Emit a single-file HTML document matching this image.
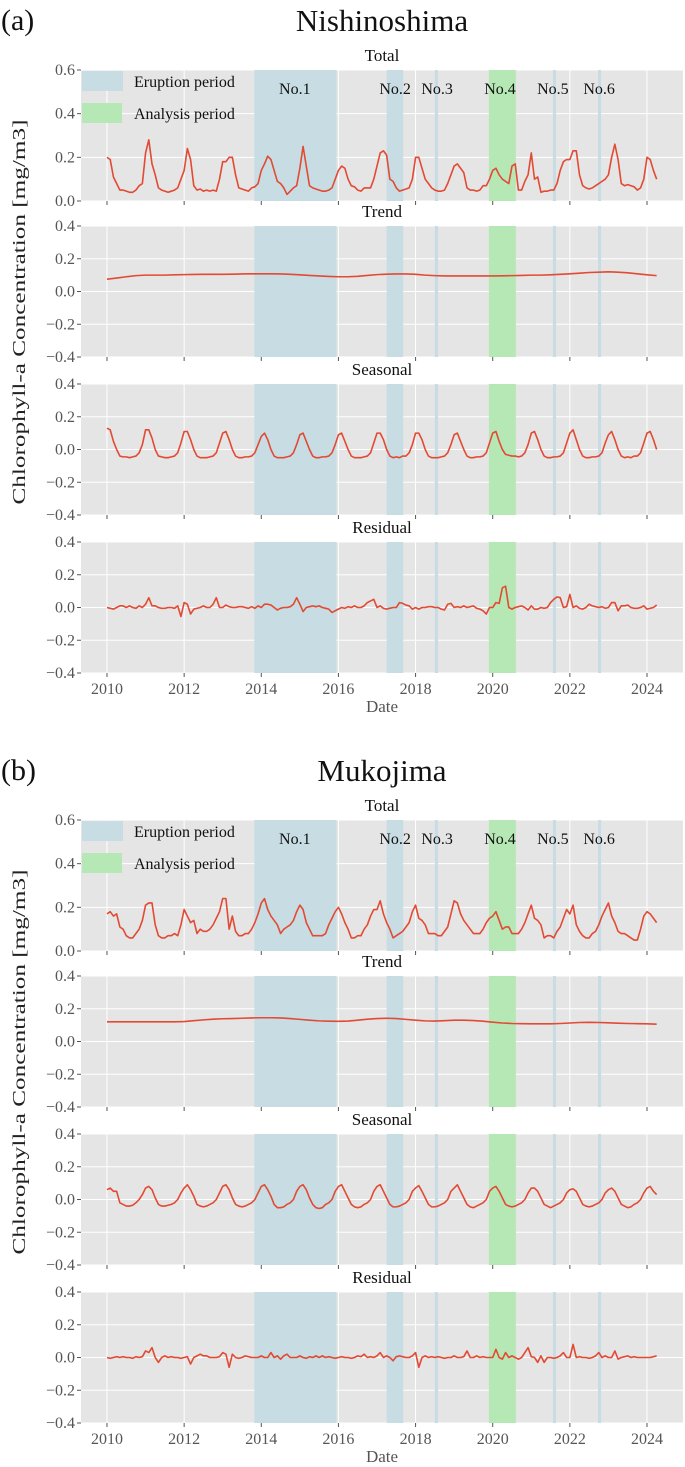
<!DOCTYPE html>
<html><head><meta charset="utf-8">
<style>
html,body{margin:0;padding:0;background:#fff;}
svg{display:block;font-family:"Liberation Serif",serif;}
</style></head>
<body>
<svg id="fig" width="685" height="1467" viewBox="0 0 685 1467" xmlns="http://www.w3.org/2000/svg"></svg>
<script>
// ---------- DATA ----------
const yearTicks = [2010,2012,2014,2016,2018,2020,2022,2024];
const panelNames = ["Total","Trend","Seasonal","Residual"];
const totalTicks = [0.0,0.2,0.4,0.6];
const compTicks = [-0.4,-0.2,0.0,0.2,0.4];
const eruptionStarts = [2013.82,2017.25,2018.5,2021.56,2022.73];
const eruptionEnds   = [2015.95,2017.68,2018.58,2021.64,2022.81];
const analysisStart = 2019.9, analysisEnd = 2020.6;
const eventLabels = ["No.1","No.2","No.3","No.4","No.5","No.6"];
const eventLabelYears = [2014.87,2017.47,2018.56,2020.19,2021.56,2022.76];

// Nishinoshima, monthly from Jan 2010
const nishiTotal = [
.20,.19,.11,.08,.05,.05,.045,.04,.04,.05,.07,.08,
.22,.28,.17,.12,.06,.05,.045,.04,.045,.05,.06,.10,
.14,.24,.19,.07,.05,.055,.045,.05,.045,.05,.045,.10,
.18,.18,.20,.20,.12,.06,.055,.05,.045,.06,.065,.08,
.14,.17,.205,.19,.14,.09,.08,.06,.03,.045,.06,.07,
.15,.25,.16,.07,.06,.055,.05,.045,.045,.05,.06,.10,
.14,.16,.15,.10,.07,.065,.05,.045,.06,.06,.06,.10,
.16,.22,.23,.21,.10,.09,.06,.045,.05,.055,.06,.10,
.20,.20,.15,.10,.08,.06,.05,.045,.045,.05,.08,.12,
.16,.17,.15,.13,.06,.05,.05,.045,.05,.07,.07,.10,
.14,.15,.12,.10,.09,.08,.16,.17,.05,.05,.09,.12,
.22,.10,.11,.04,.045,.045,.05,.05,.08,.14,.18,.19,
.19,.23,.23,.12,.07,.06,.055,.06,.07,.08,.09,.10,
.12,.20,.26,.19,.08,.07,.075,.07,.065,.05,.06,.10,
.20,.19,.14,.10];
const nishiTrend = [ // quarterly
.075,.082,.09,.097, .10,.10,.10,.102, .103,.104,.105,.105, .105,.106,.107,.108,
.108,.108,.107,.105, .102,.098,.095,.092, .09,.09,.093,.098, .103,.106,.107,.107,
.105,.10,.097,.095, .095,.095,.095,.095, .095,.096,.097,.098, .10,.10,.102,.105,
.108,.112,.116,.118, .12,.118,.114,.108, .102,.097];
const nishiSeasonal = [
.13,.12,.05,.0,-.04,-.045,-.045,-.05,-.045,-.04,-.02,.03,
.12,.12,.07,.0,-.04,-.045,-.05,-.05,-.045,-.04,-.02,.04,
.11,.11,.06,.0,-.04,-.05,-.05,-.05,-.045,-.04,-.02,.04,
.10,.11,.06,.0,-.04,-.05,-.05,-.045,-.045,-.04,-.02,.03,
.08,.10,.06,.0,-.04,-.05,-.05,-.05,-.045,-.04,-.02,.03,
.09,.10,.05,.0,-.04,-.05,-.05,-.045,-.045,-.04,-.02,.03,
.09,.10,.05,.0,-.04,-.05,-.05,-.05,-.045,-.04,-.02,.04,
.10,.10,.06,.0,-.04,-.05,-.045,-.05,-.04,-.04,-.02,.03,
.10,.10,.06,.0,-.04,-.05,-.05,-.05,-.045,-.04,-.02,.03,
.09,.10,.05,.0,-.04,-.05,-.05,-.045,-.045,-.04,-.02,.04,
.10,.11,.05,.0,-.03,-.035,-.04,-.04,-.045,-.04,-.02,.03,
.10,.11,.06,.0,-.04,-.05,-.05,-.045,-.045,-.04,-.02,.04,
.10,.12,.06,.0,-.04,-.05,-.05,-.045,-.045,-.04,-.02,.04,
.09,.11,.06,.0,-.04,-.05,-.045,-.05,-.04,-.04,-.02,.04,
.10,.11,.06,.0];
const nishiResidual = [
.0,-.005,-.01,.0,.01,.01,.0,.01,.0,-.005,.01,.0,
.02,.06,.01,.01,.0,-.005,-.005,.0,.0,-.005,.01,-.055,
.03,.02,-.04,-.01,-.005,.0,.01,.0,.0,.02,.06,.0,
.0,.015,.005,.0,.0,.005,.005,.0,-.005,.005,-.005,.01,
.0,.02,.02,.015,.0,-.015,-.005,.0,.0,.005,.02,.06,
.02,-.025,.0,.005,.01,.005,.01,.0,-.005,-.01,-.03,-.02,
-.01,.0,-.005,.005,.0,.01,.0,.0,.01,.03,.04,.05,
.0,.01,-.005,-.01,-.005,.0,.0,.03,.025,.015,.01,-.01,
.0,-.01,.0,.0,.005,.005,.0,.0,-.01,-.015,.02,.025,
.0,.005,.0,.01,.0,.005,.01,-.005,-.01,-.02,-.04,.0,
.0,.03,.025,.12,.13,.0,-.01,.0,.005,.01,.0,-.015,
.01,-.01,-.01,.0,-.005,.0,.03,.05,.065,.06,.0,.005,
.08,.0,.01,-.005,-.01,.0,.02,.01,.005,.0,.005,-.005,
.0,.03,.03,-.02,.01,.01,.015,.0,-.005,-.005,.0,.01,
-.01,-.005,.0,.015];

// Mukojima
const mukoTotal = [
.17,.18,.16,.17,.11,.10,.07,.06,.06,.08,.10,.14,
.21,.22,.22,.12,.07,.06,.06,.07,.07,.08,.07,.12,
.19,.16,.13,.14,.08,.10,.09,.09,.10,.12,.15,.18,
.24,.24,.10,.16,.09,.07,.07,.08,.08,.10,.13,.17,
.22,.24,.19,.16,.14,.12,.08,.10,.11,.12,.14,.18,
.21,.19,.13,.10,.07,.07,.07,.07,.08,.12,.15,.18,
.20,.17,.13,.10,.06,.06,.07,.07,.10,.12,.16,.19,
.19,.23,.17,.13,.10,.06,.07,.08,.09,.11,.13,.18,
.21,.15,.14,.12,.08,.08,.08,.07,.07,.09,.11,.17,
.23,.22,.17,.14,.12,.10,.08,.08,.08,.10,.13,.15,
.16,.18,.14,.10,.11,.11,.08,.08,.08,.10,.13,.17,
.21,.15,.14,.12,.06,.07,.07,.06,.09,.11,.15,.19,
.17,.21,.12,.09,.07,.06,.06,.08,.09,.12,.16,.19,
.22,.16,.13,.09,.08,.08,.07,.06,.05,.05,.10,.16,
.18,.17,.15,.13];
const mukoTrend = [
.12,.12,.12,.12, .12,.12,.12,.12, .122,.127,.132,.136, .139,.14,.142,.144,
.145,.145,.144,.14, .135,.13,.126,.124, .123,.125,.13,.136, .14,.142,.14,.135,
.13,.126,.125,.127, .13,.13,.128,.124, .118,.113,.11,.109, .108,.108,.108,.11,
.113,.116,.117,.116, .114,.112,.11,.109, .108,.106];
const mukoSeasonal = [
.06,.07,.05,.05,-.02,-.03,-.04,-.04,-.035,-.02,.0,.03,
.07,.08,.06,.01,-.03,-.04,-.04,-.035,-.03,-.02,.0,.04,
.07,.09,.06,.02,-.03,-.04,-.045,-.04,-.03,-.02,.0,.04,
.08,.09,.06,.01,-.03,-.04,-.045,-.04,-.03,-.02,.0,.04,
.08,.09,.06,.02,-.03,-.05,-.05,-.045,-.03,-.02,.0,.05,
.08,.09,.06,.01,-.03,-.05,-.055,-.05,-.03,-.02,.0,.05,
.08,.09,.05,.01,-.03,-.045,-.05,-.045,-.03,-.02,.0,.05,
.08,.09,.05,.01,-.03,-.045,-.045,-.04,-.03,-.02,.0,.05,
.07,.085,.05,.01,-.03,-.045,-.045,-.04,-.03,-.02,.0,.05,
.07,.09,.05,.01,-.03,-.045,-.05,-.04,-.03,-.02,.0,.05,
.07,.08,.05,.01,-.03,-.04,-.045,-.04,-.03,-.02,.0,.04,
.07,.07,.05,.01,-.03,-.04,-.05,-.04,-.03,-.02,.0,.04,
.06,.065,.05,.01,-.03,-.04,-.045,-.04,-.03,-.02,.0,.04,
.06,.07,.05,.01,-.03,-.04,-.05,-.045,-.03,-.02,.0,.04,
.07,.08,.05,.03];
const mukoResidual = [
.0,-.005,.0,.005,.0,.005,.0,.0,-.005,.005,.0,.005,
.04,.03,.06,.0,-.03,.0,.01,.0,.005,.0,.0,-.005,
.0,.005,-.04,.0,.01,.02,.01,.01,.0,.0,.0,.005,
.03,.02,-.06,.02,.0,-.005,.0,.01,.005,.0,.0,.0,
.01,.0,.0,.03,.0,.01,-.01,.01,.02,.0,.0,.0,
.01,.0,-.005,.005,.0,.01,.0,.01,.0,.005,.0,-.005,
.0,.005,.0,.0,-.005,.0,.01,.005,.02,.0,.005,.0,
.01,.03,.0,.01,.0,-.02,.005,.01,.005,.0,.0,.01,
.03,-.06,.0,.01,.0,.005,.0,.005,.0,-.005,.0,.0,
.01,.0,.0,.005,.04,.0,.0,.01,.0,.005,.0,.0,
.0,.05,.0,-.01,.03,.0,.01,.0,-.01,.0,.03,.06,
.005,.0,-.03,.01,-.03,.0,.0,-.005,.0,.01,.03,.0,
.0,.08,.0,.005,.0,.0,-.005,.0,.01,.03,.0,.01,
.0,.0,.04,-.01,.0,.005,.01,.0,.005,.0,.0,.0,
.0,.0,.005,.01];

// ---------- RENDER ----------
const NS = "http://www.w3.org/2000/svg";
const svg = document.getElementById("fig");
const X0 = 81, X1 = 683;
function xs(yr){ return 107 + (yr - 2010) * 38.5714; }
function mk(tag, attrs, parent){
  const e = document.createElementNS(NS, tag);
  for (const k in attrs) e.setAttribute(k, attrs[k]);
  (parent || svg).appendChild(e);
  return e;
}
function txt(str, attrs, parent){ const t = mk("text", attrs, parent); t.textContent = str; return t; }

const figs = [
  {off:0, letter:"(a)", title:"Nishinoshima", series:[nishiTotal,nishiTrend,nishiSeasonal,nishiResidual], id:"nishinoshima"},
  {off:750, letter:"(b)", title:"Mukojima", series:[mukoTotal,mukoTrend,mukoSeasonal,mukoResidual], id:"mukojima"}
];
const panelTops = [70,226,384,542];
const panelH = 131;

figs.forEach(f => {
  const g = mk("g", {});
  
  
  const lt = txt(f.letter, {x:1, y:f.off+30, "font-size":30, fill:"#111"}, g);
  
  
  const tt = txt(f.title, {x:382, y:f.off+31, "font-size":31, "text-anchor":"middle", fill:"#111"}, g);
  
  
  const yl = txt("Chlorophyll-a Concentration [mg/m3]", {x:0, y:0, "font-size":18, "text-anchor":"middle", textLength:385, lengthAdjust:"spacingAndGlyphs", fill:"#222", transform:`translate(25 ${f.off+312}) rotate(-90)`}, g);
  
  

  panelNames.forEach((pn, pi) => {
    const top = f.off + panelTops[pi], bot = top + panelH;
    const isTotal = pi === 0;
    const ymin = isTotal ? 0 : -0.4, ymax = isTotal ? 0.6 : 0.4;
    const ys = v => bot - (v - ymin) / (ymax - ymin) * panelH;
    const pg = mk("g", {}, g);
    
    
    const bg = mk("rect", {x:X0, y:top, width:X1-X0, height:panelH, fill:"#e5e5e5"}, pg);
    
    
    const ticks = isTotal ? totalTicks : compTicks;
    ticks.forEach(t => {
      const y = ys(t);
      mk("line", {x1:X0, x2:X1, y1:y, y2:y, stroke:"#fff", "stroke-width":1}, pg);
      mk("line", {x1:X0-4, x2:X0, y1:y, y2:y, stroke:"#555", "stroke-width":1}, pg);
      const lab = txt((t<0?"\u2212":"") + Math.abs(t).toFixed(1), {x:75, y:y+5, "font-size":16, "text-anchor":"end", fill:"#555"}, pg);
      
      
    });
    yearTicks.forEach(yr => {
      const x = xs(yr);
      mk("line", {x1:x, x2:x, y1:top, y2:bot, stroke:"#fff", "stroke-width":1}, pg);
      mk("line", {x1:x, x2:x, y1:bot, y2:bot+4, stroke:"#555", "stroke-width":1}, pg);
      if (pi === 3) {
        const xl = txt(String(yr), {x:x, y:bot+21, "font-size":16, "text-anchor":"middle", fill:"#555"}, pg);
        
        
      }
    });
    eruptionStarts.forEach((s, i) => {
      const b = mk("rect", {x:xs(s), y:top, width:xs(eruptionEnds[i])-xs(s), height:panelH, fill:"#c7dde3"}, pg);
      
      
    });
    const ab = mk("rect", {x:xs(analysisStart), y:top, width:xs(analysisEnd)-xs(analysisStart), height:panelH, fill:"#b6e8b6"}, pg);
    
    
    const data = f.series[pi];
    const step = pi === 1 ? 0.25 : 1/12;
    let d = "";
    data.forEach((v, i) => { d += (i ? "L" : "M") + xs(2010 + i*step).toFixed(2) + " " + ys(v).toFixed(2); });
    const line = mk("path", {d:d, fill:"none", stroke:"#e24a33", "stroke-width":1.6, "stroke-linejoin":"round"}, pg);
    
    
    const st = txt(pn, {x:382, y:top-9, "font-size":17, "text-anchor":"middle", fill:"#111"}, pg);
    
    
    if (isTotal) {
      eventLabels.forEach((l, i) => {
        const el = txt(l, {x:xs(eventLabelYears[i]), y:top+24, "font-size":16, "text-anchor":"middle", fill:"#111"}, pg);
        
        
      });
      const lg = mk("g", {}, pg);
      
      
      mk("rect", {x:82, y:top+1, width:41, height:20, fill:"#c7dde3"}, lg);
      txt("Eruption period", {x:134, y:top+17, "font-size":16, fill:"#111"}, lg);
      mk("rect", {x:82, y:top+33, width:40, height:20, fill:"#b6e8b6"}, lg);
      txt("Analysis period", {x:134, y:top+49, "font-size":16, fill:"#111"}, lg);
    }
    if (pi === 3) {
      const dl = txt("Date", {x:382, y:bot+39, "font-size":17, "text-anchor":"middle", fill:"#555"}, pg);
      
      
    }
  });
});
</script>
</body></html>
